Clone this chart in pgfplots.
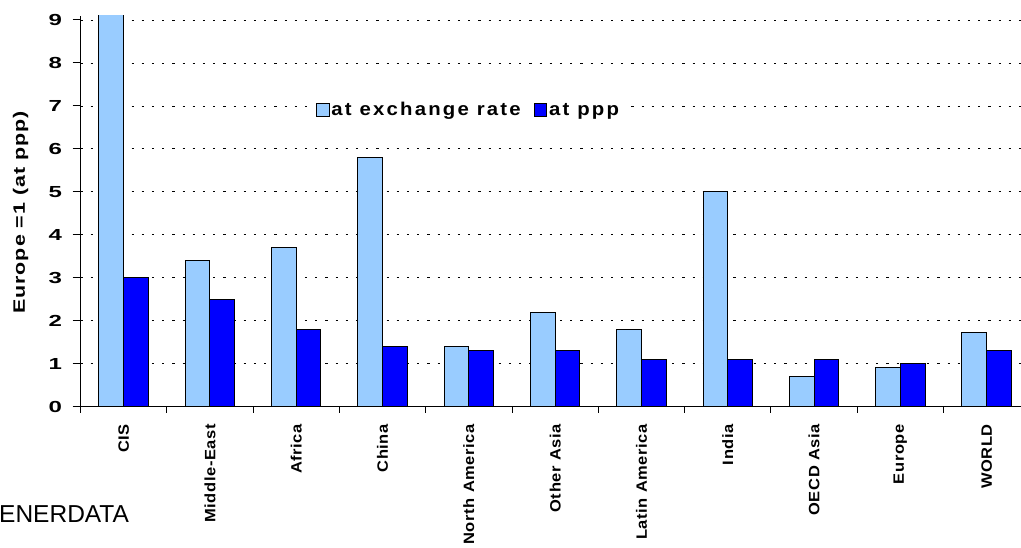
\documentclass[border=0pt]{standalone}
\usepackage{pgfplots}
\pgfplotsset{compat=1.18}
\usepackage{fontspec}
\setmainfont{Liberation Sans}
\definecolor{lightb}{HTML}{99CCFF}
\definecolor{darkb}{HTML}{0000FF}
\newfontfamily\ylabfont[FakeStretch=1.3, LetterSpace=6]{Liberation Sans Bold}
\newfontfamily\legfont[FakeStretch=1.1, LetterSpace=12]{Liberation Sans Bold}
\newfontfamily\xlabfont[FakeStretch=1.1, LetterSpace=4]{Liberation Sans Bold}
\newfontfamily\numfont[FakeStretch=1.5]{Liberation Sans Bold}
\begin{document}
\begin{tikzpicture}
\useasboundingbox (0,0) rectangle (1021bp,548bp);
\begin{axis}[
  at={(80.5bp,141.3bp)}, anchor=south west,
  scale only axis, width=940.7bp, height=391bp,
  xmin=-0.5, xmax=10.4, ymin=0, ymax=9.1,
  axis x line=bottom, axis y line=left,
  axis line style={-, line width=1.2bp, black},
  ybar=0pt, bar width=24.7bp,
  xtick={0,...,10},
  xticklabels={CIS,Middle-East,Africa,China,North America,Other Asia,Latin America,India,OECD Asia,Europe,WORLD},
  minor xtick={-0.5,0.5,...,9.5},
  major x tick style={draw=none},
  minor tick length=6bp, major tick length=8bp,
  tick align=outside,
  tick style={black, line width=1bp},
  ytick={0,...,9},
  yticklabels={0,1,2,3,4,5,6,7,8,9},
  ymajorgrids,
  major y grid style={black, line width=0.8bp, dash pattern=on 2.2bp off 8bp},
  yticklabel style={font=\fontsize{16bp}{19bp}\numfont, xshift=-7bp},
  xticklabel style={rotate=90, anchor=east, xshift=-6bp, font=\fontsize{15bp}{18bp}\xlabfont},
  legend style={at={(rel axis cs:0.4125,0.759)}, anchor=center, fill=white, draw=none,
    font=\fontsize{18.5bp}{22bp}\legfont, inner sep=2bp,
    /tikz/every even column/.append style={column sep=11bp}},
  legend columns=2,
  legend image code/.code={\draw[#1, draw=black, line width=0.8bp] (0bp,-6bp) rectangle (12.5bp,6.5bp);},
  every axis plot/.append style={draw=black, line width=1bp},
]
\addplot[fill=lightb] coordinates {(0,9.6) (1,3.4) (2,3.7) (3,5.8) (4,1.4) (5,2.2) (6,1.8) (7,5.0) (8,0.7) (9,0.92) (10,1.72)};
\addplot[fill=darkb] coordinates {(0,3.0) (1,2.5) (2,1.8) (3,1.4) (4,1.3) (5,1.3) (6,1.1) (7,1.1) (8,1.1) (9,1.0) (10,1.3)};
\legend{at exchange rate, at ppp}
\end{axis}
\node[rotate=90, inner sep=0pt, font=\fontsize{16.5bp}{20bp}\ylabfont] at (20.5bp,335.5bp) {Europe =1 (at ppp)};
\node[anchor=base west, inner sep=0pt, font=\fontsize{24.5bp}{28bp}\selectfont] at (-1bp,25.3bp) {ENERDATA};
\end{tikzpicture}
\end{document}
